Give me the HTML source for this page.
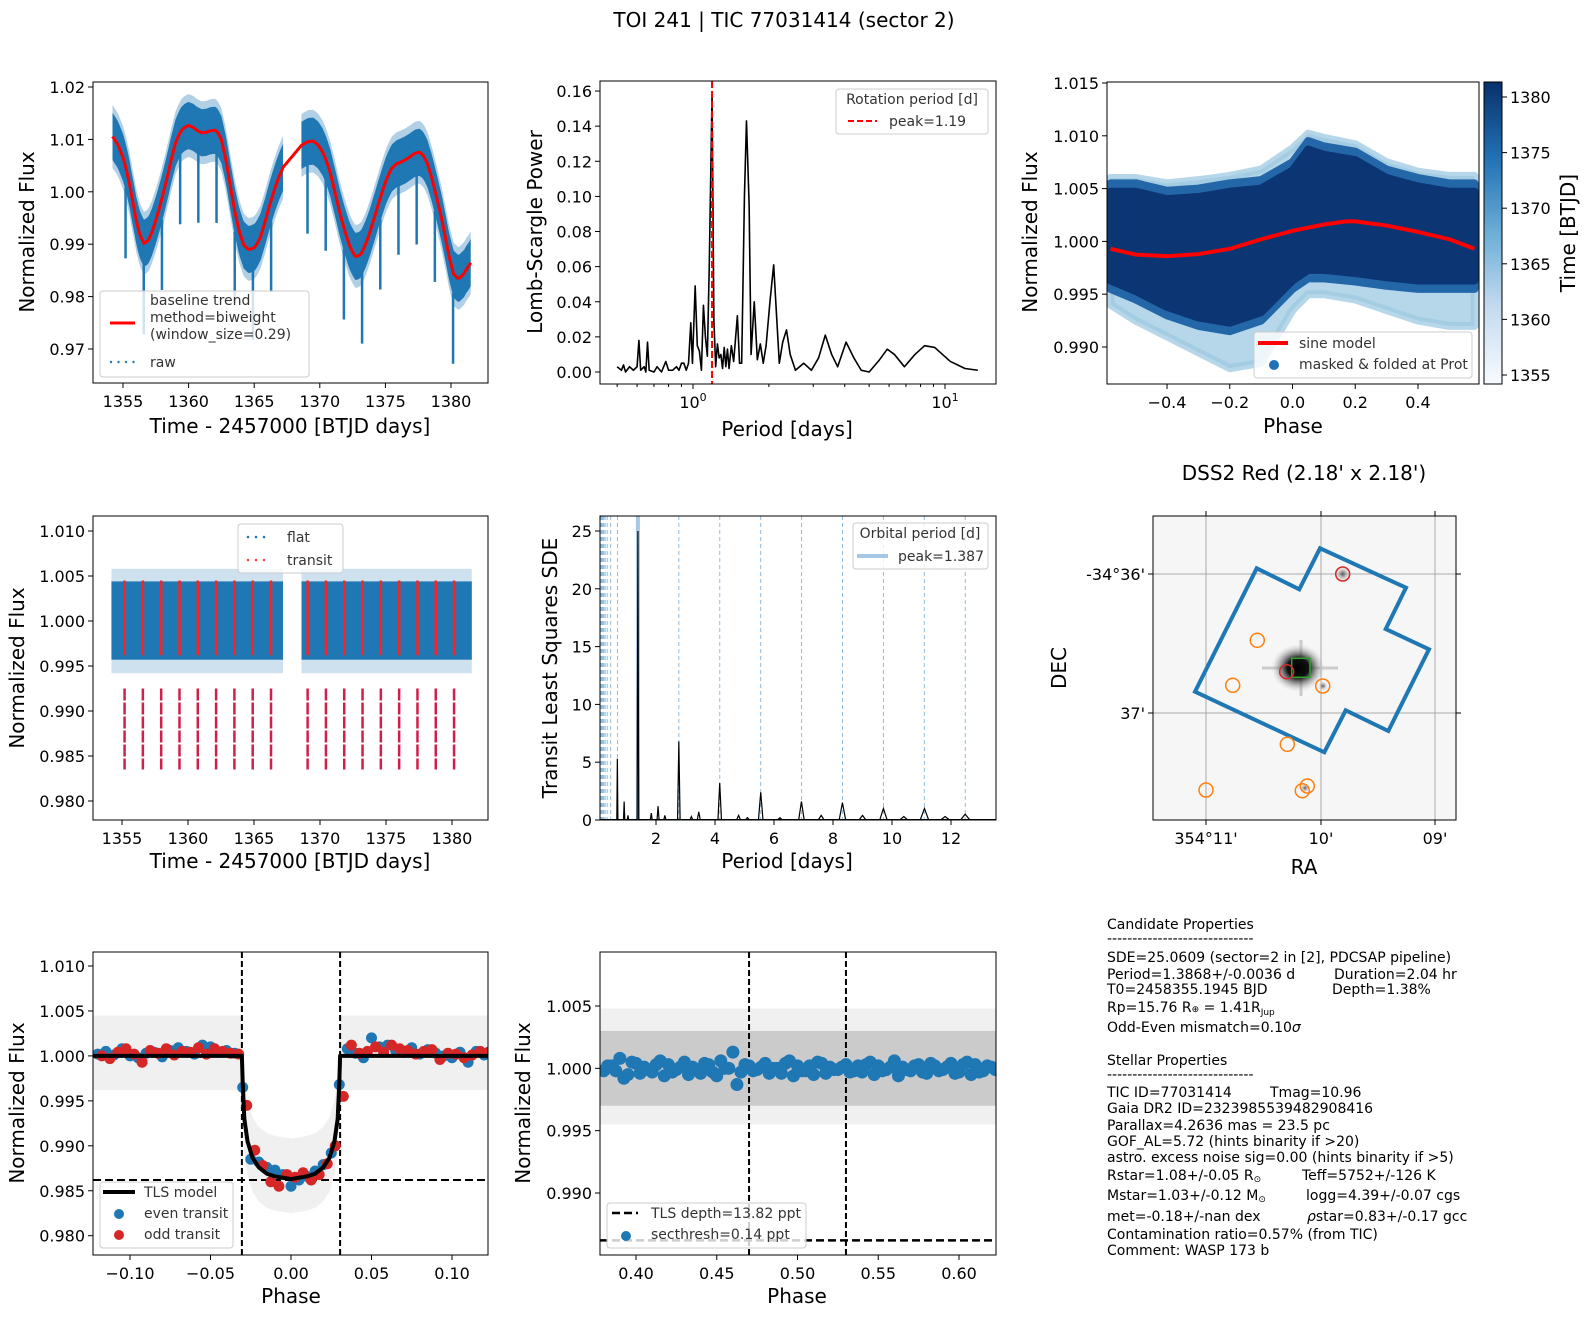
<!DOCTYPE html>
<html><head><meta charset="utf-8">
<style>
html,body{margin:0;padding:0;background:#fff;}
svg{display:block;font-family:"DejaVu Sans","Liberation Sans",sans-serif;}
.tk{font-size:16px;fill:#000;}
.lab{font-size:20px;fill:#000;}
.lg{font-size:14px;fill:#333;}
.info{font-size:14px;fill:#000;}
</style></head>
<body>
<svg id="fig" width="1590" height="1318" viewBox="0 0 1590 1318" xmlns="http://www.w3.org/2000/svg">
<defs>
<linearGradient id="cbar" x1="0" y1="1" x2="0" y2="0">
<stop offset="0" stop-color="#f7fbff"/><stop offset="0.25" stop-color="#c6dbef"/><stop offset="0.5" stop-color="#6baed6"/><stop offset="0.75" stop-color="#2171b5"/><stop offset="1" stop-color="#08306b"/>
</linearGradient>
<radialGradient id="star"><stop offset="0" stop-color="#000"/><stop offset="0.4" stop-color="#111"/><stop offset="0.7" stop-color="#666" stop-opacity="0.5"/><stop offset="1" stop-color="#ccc" stop-opacity="0"/></radialGradient>
<radialGradient id="star2"><stop offset="0" stop-color="#555"/><stop offset="1" stop-color="#ddd" stop-opacity="0"/></radialGradient>
</defs>
<text x="784" y="27" text-anchor="middle" style="font-size:20px">TOI 241 | TIC 77031414 (sector 2)</text>
<g id="info">
<text class="info" x="1107" y="929">Candidate Properties</text>
<text class="info" x="1107" y="943">-----------------------------</text>
<text class="info" x="1107" y="962">SDE=25.0609 (sector=2 in [2], PDCSAP pipeline)</text>
<text class="info" x="1107" y="979">Period=1.3868+/-0.0036 d</text><text class="info" x="1334" y="979">Duration=2.04 hr</text>
<text class="info" x="1107" y="994">T0=2458355.1945 BJD</text><text class="info" x="1332" y="994">Depth=1.38%</text>
<text class="info" x="1107" y="1012">Rp=15.76 R<tspan font-size="9">⊕</tspan> = 1.41R<tspan font-size="9" dy="3">Jup</tspan></text>
<text class="info" x="1107" y="1032">Odd-Even mismatch=0.10<tspan font-style="italic">σ</tspan></text>
<text class="info" x="1107" y="1065">Stellar Properties</text>
<text class="info" x="1107" y="1079">-----------------------------</text>
<text class="info" x="1107" y="1097">TIC ID=77031414</text><text class="info" x="1270" y="1097">Tmag=10.96</text>
<text class="info" x="1107" y="1113">Gaia DR2 ID=2323985539482908416</text>
<text class="info" x="1107" y="1130">Parallax=4.2636 mas = 23.5 pc</text>
<text class="info" x="1107" y="1146">GOF_AL=5.72 (hints binarity if &gt;20)</text>
<text class="info" x="1107" y="1162">astro. excess noise sig=0.00 (hints binarity if &gt;5)</text>
<text class="info" x="1107" y="1180">Rstar=1.08+/-0.05 R<tspan font-size="9" dy="2">⊙</tspan></text><text class="info" x="1302" y="1180">Teff=5752+/-126 K</text>
<text class="info" x="1107" y="1200">Mstar=1.03+/-0.12 M<tspan font-size="9" dy="2">⊙</tspan></text><text class="info" x="1306" y="1200">logg=4.39+/-0.07 cgs</text>
<text class="info" x="1107" y="1221">met=-0.18+/-nan dex</text><text class="info" x="1307" y="1221"><tspan font-style="italic">ρ</tspan>star=0.83+/-0.17 gcc</text>
<text class="info" x="1107" y="1239">Contamination ratio=0.57% (from TIC)</text>
<text class="info" x="1107" y="1255">Comment: WASP 173 b</text>
</g>
</svg>
<script>
// ---------- data ----------
const trendTimes=[1354.2,1355,1355.5,1356,1356.6,1357.2,1357.8,1358.5,1359,1359.5,1360,1360.5,1361,1361.5,1362,1362.5,1363,1363.5,1364.2,1365,1365.5,1366,1366.6,1367.2,1368.6,1369.5,1370.2,1370.8,1371.5,1372.2,1372.7,1373.2,1373.8,1374.5,1375,1375.5,1376.5,1377.6,1378.2,1378.7,1379.3,1380.2,1381,1381.5];
const trendFlux=[1.011,1.007,1.002,0.994,0.989,0.992,0.997,1.004,1.010,1.012,1.013,1.012,1.011,1.0115,1.012,1.011,1.004,0.996,0.989,0.989,0.991,0.996,1.001,1.005,1.009,1.010,1.008,1.004,0.996,0.990,0.987,0.988,0.992,0.998,1.002,1.005,1.006,1.008,1.006,1.001,0.995,0.983,0.984,0.987];
const dataGap=[1367.2,1368.6];
const transitEpoch=1355.1945;
const transitPeriod=1.3868;
const transitCount=19;
const transitDepth=0.0135;

const lsPeriods=[0.5,0.52,0.53,0.54,0.56,0.58,0.6,0.61,0.62,0.64,0.65,0.66,0.67,0.7,0.72,0.75,0.78,0.8,0.83,0.86,0.88,0.9,0.92,0.94,0.96,0.98,0.995,1.02,1.04,1.06,1.08,1.1,1.12,1.14,1.16,1.19,1.21,1.23,1.25,1.27,1.29,1.31,1.33,1.35,1.37,1.39,1.42,1.45,1.5,1.53,1.56,1.6,1.63,1.67,1.7,1.75,1.8,1.85,1.9,1.95,2.02,2.09,2.15,2.2,2.27,2.35,2.43,2.55,2.75,2.95,3.15,3.35,3.55,3.75,4.05,4.35,4.65,5.0,5.5,5.9,6.3,6.9,7.6,8.3,9.1,10.5,12,13.5];
const lsPower=[0.003,0.001,0.004,0.0,0.003,0.001,0.003,0.018,0.001,0.003,0.0,0.017,0.001,0.0,0.003,0.0,0.006,0.001,0.001,0.003,0.001,0.005,0.005,0.001,0.005,0.028,0.005,0.049,0.015,0.012,0.001,0.038,0.02,0.009,0.06,0.158,0.03,0.003,0.016,0.008,0.01,0.002,0.014,0.003,0.013,0.002,0.015,0.006,0.032,0.005,0.005,0.1,0.143,0.095,0.01,0.04,0.007,0.016,0.005,0.015,0.04,0.061,0.03,0.005,0.017,0.024,0.01,0.001,0.005,0.001,0.008,0.021,0.01,0.003,0.017,0.008,0.001,0.0,0.007,0.013,0.01,0.003,0.01,0.015,0.014,0.006,0.002,0.001];
const rotPeak=1.19;

const foldPhase=[-0.58,-0.5,-0.4,-0.3,-0.2,-0.1,0,0.05,0.1,0.2,0.3,0.4,0.5,0.58];
const foldUpper=[1.0055,1.0055,1.0048,1.005,1.0055,1.0058,1.0075,1.0095,1.009,1.0085,1.0068,1.006,1.0055,1.0055];
const foldLower=[0.9955,0.9945,0.993,0.992,0.9915,0.9925,0.9955,0.9965,0.9965,0.9962,0.9958,0.9955,0.9955,0.9955];
const foldLightUpper=[1.006,1.006,1.0055,1.0058,1.0062,1.0068,1.0088,1.0102,1.0098,1.0092,1.0075,1.0066,1.0062,1.0062];
const foldLightLower=[0.994,0.9925,0.991,0.9895,0.988,0.9885,0.9935,0.995,0.995,0.9945,0.9935,0.9925,0.992,0.992];
const sinePhase=[-0.58,-0.5,-0.4,-0.3,-0.2,-0.1,0,0.1,0.17,0.2,0.3,0.4,0.5,0.58];
const sineFlux=[0.9993,0.99875,0.9986,0.9988,0.9993,1.0002,1.001,1.0016,1.0019,1.0019,1.0015,1.0009,1.0002,0.9993];

const tlsPeriods=[0.69,0.92,1.05,1.387,1.84,2.07,2.3,2.774,3.2,3.45,4.16,4.8,5.1,5.55,6.2,6.93,7.6,8.32,9.0,9.71,10.4,11.1,11.8,12.48];
const tlsSDE=[5.3,1.6,0.4,25.0,0.6,1.2,0.4,6.8,0.3,0.7,3.2,0.4,0.2,2.4,0.2,1.6,0.4,1.5,0.4,1.0,0.3,1.0,0.3,0.5];
const orbPeak=1.387;
const harmonicsUp=[2,3,4,5,6,7,8,9];
const harmonicsDown=[2,3,4,5,6,7,8,9,10,11,12,13,14];

const modelPhase=[-0.125,-0.0305,-0.030,-0.029,-0.027,-0.024,-0.02,-0.015,-0.01,0,0.01,0.015,0.02,0.024,0.027,0.029,0.030,0.0305,0.125];
const modelFlux=[1,1,0.997,0.993,0.9905,0.9887,0.9876,0.9869,0.9866,0.9863,0.9866,0.9869,0.9876,0.9887,0.9905,0.993,0.997,1,1];
const binPhaseStart=-0.12, binStep=0.005;
const evenFlux=[1.0002,1.0005,1.0001,1.0008,1.0000,0.9998,1.0003,1.0004,0.9999,1.0006,1.0009,1.0005,1.0002,1.0012,1.0010,1.0004,1.0006,1.0003,
0.9965,0.9885,0.9882,0.9876,0.9873,0.9868,0.9855,0.9862,0.9866,0.9872,0.9879,0.9892,0.9968,
1.0008,1.0003,0.9998,1.0020,1.0010,1.0012,1.0006,1.0004,1.0009,1.0002,1.0007,1.0003,1.0000,0.9998,1.0004,0.9993,1.0005,1.0001];
const oddFlux=[1.0000,0.9997,1.0004,1.0008,1.0002,0.9993,1.0006,1.0003,1.0008,1.0001,1.0005,1.0004,1.0009,1.0002,1.0008,1.0005,1.0003,1.0002,
0.9945,0.9895,0.9878,0.9860,0.9855,0.9868,0.9865,0.9870,0.9862,0.9868,0.9880,0.9900,0.9955,
1.0012,1.0003,1.0005,1.0010,1.0004,1.0012,1.0008,1.0006,1.0002,1.0005,1.0007,0.9996,1.0003,1.0002,0.9998,1.0001,1.0005,1.0004];
const tlsDepthLevel=0.9862;
const transitEdges=[-0.0305,0.0305];

const secPhaseStart=0.38, secStep=0.005;
const secFlux=[0.9998,1.0002,1.0008,0.9995,1.0004,1.0001,0.9997,1.0006,1.0003,0.9999,1.0005,1.0001,0.9996,1.0003,0.9994,1.0000,1.0013,0.9997,1.0002,0.9999,1.0004,1.0000,0.9996,1.0006,1.0002,0.9998,0.9995,1.0004,1.0001,0.9999,1.0003,0.9998,0.9997,1.0005,1.0002,0.9999,1.0006,1.0001,0.9998,1.0003,0.9996,1.0002,0.9999,1.0004,0.9997,1.0005,1.0003,0.9998,1.0001];
const secEdges=[0.47,0.53];

// ---------- helpers ----------
const svg=document.getElementById('fig');
const NS='http://www.w3.org/2000/svg';
function mk(tag,attrs,parent){const e=document.createElementNS(NS,tag);for(const k in attrs)e.setAttribute(k,attrs[k]);(parent||svg).appendChild(e);return e;}
function txt(x,y,s,cls,anchor,parent){const e=mk('text',{x:x,y:y,class:cls,'text-anchor':anchor||'start'},parent);e.textContent=s;return e;}
function frame(L,T,R,B){const e=mk('rect',{x:L,y:T,width:R-L,height:B-T,fill:'none',stroke:'#000','stroke-width':1});


return e;}
function xticks(vals,labels,xf,B){for(let i=0;i<vals.length;i++){const x=xf(vals[i]);
const l=mk('line',{x1:x,x2:x,y1:B,y2:B+5,stroke:'#000'});


const t=txt(x,B+24,labels[i],'tk','middle');

}}
function yticks(vals,labels,yf,L){for(let i=0;i<vals.length;i++){const y=yf(vals[i]);
const l=mk('line',{x1:L-5,x2:L,y1:y,y2:y,stroke:'#000'});


const t=txt(L-8,y+6,labels[i],'tk','end');

}}
function xlabel(x,y,s){const t=txt(x,y,s,'lab','middle');

}
function ylabel(x,y,s){const t=txt(x,y,s,'lab','middle');t.setAttribute('transform','rotate(-90 '+x+' '+y+')');

}
function clip(id,L,T,R,B){const d=svg.querySelector('defs');const c=mk('clipPath',{id:id},d);mk('rect',{x:L,y:T,width:R-L,height:B-T},c);const g=mk('g',{'clip-path':'url(#'+id+')'});return g;}
function interp(xs,ys,x){if(x<=xs[0])return ys[0];for(let i=1;i<xs.length;i++){if(x<=xs[i]){const f=(x-xs[i-1])/(xs[i]-xs[i-1]);return ys[i-1]+f*(ys[i]-ys[i-1]);}}return ys[ys.length-1];}
function smooth(xs,ys,x){const h=0.35;return (interp(xs,ys,x-h)+2*interp(xs,ys,x)+interp(xs,ys,x+h))/4;}
function fmt(v,d){return (v<0?'\u2212':'')+Math.abs(v).toFixed(d);}
function legendBox(x,y,w,h){const r=mk('rect',{x:x,y:y,width:w,height:h,rx:3,fill:'#fff','fill-opacity':0.8,stroke:'#ccc'});

return r;}

// ---------- Panel 1: raw light curve ----------
(function(){
const L=93,T=82,R=488,B=383;
const xf=t=>123+(t-1355)*13.12, yf=v=>87+(1.02-v)*5240;
const g=clip('c1',L,T,R,B);
const segs=[[trendTimes[0],dataGap[0]],[dataGap[1],trendTimes[trendTimes.length-1]]];
segs.forEach(s=>{[[0.006,0.35],[0.0045,1]].forEach(w=>{let up=[],lo=[];for(let t=s[0];t<=s[1]+1e-6;t+=0.1){const v=smooth(trendTimes,trendFlux,t);up.push(xf(t)+','+yf(v+w[0]));lo.unshift(xf(t)+','+yf(v-w[0]));}
const p=mk('polygon',{points:up.concat(lo).join(' '),fill:'#1f77b4','fill-opacity':w[1]},g);

});});
for(let k=0;k<transitCount;k++){const t=transitEpoch+k*transitPeriod;if(t>dataGap[0]&&t<dataGap[1])continue;const v=smooth(trendTimes,trendFlux,t);
const l=mk('line',{x1:xf(t),x2:xf(t),y1:yf(v-0.004),y2:yf(v-transitDepth-0.004),stroke:'#1f77b4','stroke-width':2.5},g);

}
let tp=[];for(let t=trendTimes[0];t<=trendTimes[trendTimes.length-1]+1e-6;t+=0.1){if(t>dataGap[0]+0.05&&t<dataGap[1]-0.05)continue;tp.push(xf(t)+','+yf(smooth(trendTimes,trendFlux,t)));}
const tl=mk('polyline',{points:tp.join(' '),fill:'none',stroke:'#ff0000','stroke-width':3},g);


frame(L,T,R,B);
xticks([1355,1360,1365,1370,1375,1380],['1355','1360','1365','1370','1375','1380'],xf,B);
yticks([0.97,0.98,0.99,1.00,1.01,1.02],['0.97','0.98','0.99','1.00','1.01','1.02'],yf,L);
xlabel(290,433,'Time - 2457000 [BTJD days]');ylabel(34,232,'Normalized Flux');
legendBox(100,291,209,86);
mk('line',{x1:110,x2:135,y1:323,y2:323,stroke:'#f00','stroke-width':3});
['baseline trend','method=biweight','(window_size=0.29)'].forEach((s,i)=>txt(150,305+i*17,s,'lg'));
for(let i=0;i<4;i++)mk('circle',{cx:111+i*7.5,cy:362,r:1.2,fill:'#1f77b4'});
txt(150,367,'raw','lg');
})();

// ---------- Panel 2: Lomb-Scargle ----------
(function(){
const L=600,T=81,R=996,B=384;
const xf=p=>693+Math.log10(p)*252, yf=v=>372-v*1756;
const g=clip('c2',L,T,R,B);
const pl=mk('polyline',{points:lsPeriods.map((p,i)=>xf(p)+','+yf(lsPower[i])).join(' '),fill:'none',stroke:'#000','stroke-width':1.6,'stroke-linejoin':'round'},g);


const rl=mk('line',{x1:xf(rotPeak),x2:xf(rotPeak),y1:T,y2:B,stroke:'#f00','stroke-width':2,'stroke-dasharray':'7,3'},g);


frame(L,T,R,B);
[0.5,0.6,0.7,0.8,0.9,2,3,4,5,6,7,8,9].forEach(p=>{const m=mk('line',{x1:xf(p),x2:xf(p),y1:B,y2:B+3,stroke:'#000'});

});
[1,10].forEach((p,i)=>{const x=xf(p);mk('line',{x1:x,x2:x,y1:B,y2:B+5,stroke:'#000'});
const t=mk('text',{x:x,y:B+24,class:'tk','text-anchor':'middle'});


t.innerHTML='10<tspan dy="-7" font-size="11">'+i+'</tspan>';});
const yv=[0,0.02,0.04,0.06,0.08,0.10,0.12,0.14,0.16];
yticks(yv,yv.map(v=>v.toFixed(2)),yf,L);
xlabel(787,436,'Period [days]');ylabel(542,232,'Lomb-Scargle Power');
legendBox(836,89,152,45);
txt(912,104,'Rotation period [d]','lg','middle').setAttribute('fill','#000');
mk('line',{x1:848,x2:877,y1:121,y2:121,stroke:'#f00','stroke-width':2,'stroke-dasharray':'6,3'});
txt(889,126,'peak=1.19','lg');
})();

// ---------- Panel 3: folded at Prot ----------
(function(){
const L=1107,T=82,R=1479,B=384;
const xf=p=>1292.5+p*313.7, yf=v=>83+(1.015-v)*10560;
const g=clip('c3',L,T,R,B);
function band(up,lo,fill,op,name){const a=foldPhase.map((p,i)=>xf(p)+','+yf(up[i])),b=foldPhase.map((p,i)=>xf(p)+','+yf(lo[i])).reverse();
const e=mk('polygon',{points:a.concat(b).join(' '),fill:fill,'fill-opacity':op,stroke:fill,'stroke-width':8,'stroke-linejoin':'round','stroke-opacity':op},g);

}
band(foldLightUpper,foldLightLower,'#9ecae1',0.75,'folded-points-early');
band(foldUpper,foldLower,'#2467a8',1,'folded-points-mid');
const inner=foldUpper.map((v,i)=>v-0.0008), innerLo=foldLower.map(v=>v+0.0008);
band(inner,innerLo,'#0b3673',1,'folded-points-late');
const sl=mk('polyline',{points:sinePhase.map((p,i)=>xf(p)+','+yf(sineFlux[i])).join(' '),fill:'none',stroke:'#f00','stroke-width':4,'stroke-linejoin':'round'},g);


frame(L,T,R,B);
xticks([-0.4,-0.2,0,0.2,0.4],[-0.4,-0.2,0,0.2,0.4].map(v=>fmt(v,1)),xf,B);
const yv=[0.990,0.995,1.000,1.005,1.010,1.015];
yticks(yv,yv.map(v=>v.toFixed(3)),yf,L);
xlabel(1293,433,'Phase');ylabel(1037,232,'Normalized Flux');
legendBox(1254,332,218,46);
mk('line',{x1:1258,x2:1288,y1:343,y2:343,stroke:'#f00','stroke-width':4});
txt(1299,348,'sine model','lg').setAttribute('fill','#000');
mk('circle',{cx:1274,cy:365,r:5,fill:'#2171b5'});
txt(1299,369,'masked & folded at Prot','lg').setAttribute('fill','#000');
// colorbar
const cb=mk('rect',{x:1484,y:82,width:18,height:302,fill:'url(#cbar)',stroke:'#000'});


const cf=v=>375-(v-1355)*11.12;
[1355,1360,1365,1370,1375,1380].forEach(v=>{mk('line',{x1:1502,x2:1507,y1:cf(v),y2:cf(v),stroke:'#000'});
const t=txt(1510,cf(v)+6,String(v),'tk');

});
const ct=txt(1575,233,'Time [BTJD]','lab','middle');ct.setAttribute('transform','rotate(-90 1575 233)');


})();

// ---------- Panel 4: flattened ----------
(function(){
const L=93,T=516,R=488,B=820;
const xf=t=>122+(t-1355)*13.2, yf=v=>531+(1.010-v)*9000;
const g=clip('c4',L,T,R,B);
[[trendTimes[0],dataGap[0]],[dataGap[1],trendTimes[trendTimes.length-1]]].forEach(s=>{
const o=mk('rect',{x:xf(s[0]),y:yf(1.0058),width:xf(s[1])-xf(s[0]),height:yf(0.9942)-yf(1.0058),fill:'#1f77b4','fill-opacity':0.22},g);


const r=mk('rect',{x:xf(s[0]),y:yf(1.0044),width:xf(s[1])-xf(s[0]),height:yf(0.9957)-yf(1.0044),fill:'#1f77b4'},g);

});
for(let k=0;k<transitCount;k++){const t=transitEpoch+k*transitPeriod;if(t>dataGap[0]&&t<dataGap[1])continue;
const a=mk('line',{x1:xf(t),x2:xf(t),y1:yf(1.0045),y2:yf(0.9962),stroke:'#ff2020','stroke-width':2.5},g);


const b=mk('line',{x1:xf(t),x2:xf(t),y1:yf(0.9925),y2:yf(1-transitDepth-0.003),stroke:'#d0204a','stroke-width':2.5,'stroke-dasharray':'12,2'},g);

}
frame(L,T,R,B);
xticks([1355,1360,1365,1370,1375,1380],['1355','1360','1365','1370','1375','1380'],xf,B);
const yv=[0.980,0.985,0.990,0.995,1.000,1.005,1.010];
yticks(yv,yv.map(v=>v.toFixed(3)),yf,L);
xlabel(290,868,'Time - 2457000 [BTJD days]');ylabel(24,668,'Normalized Flux');
legendBox(238,524,105,49);
for(let i=0;i<3;i++){mk('circle',{cx:248+i*8,cy:537,r:1.3,fill:'#1f77b4'});mk('circle',{cx:248+i*8,cy:560,r:1.3,fill:'#f44'});}
txt(287,542,'flat','lg');txt(287,565,'transit','lg');
})();

// ---------- Panel 5: TLS ----------
(function(){
const L=600,T=516,R=996,B=820;
const xf=p=>656+(p-2)*29.5, yf=v=>820-v*11.56;
const g=clip('c5',L,T,R,B);
const lines=harmonicsUp.map(k=>orbPeak*k).concat(harmonicsDown.map(k=>orbPeak/k));
lines.forEach(p=>{const l=mk('line',{x1:xf(p),x2:xf(p),y1:T,y2:B,stroke:'#8fbde0','stroke-width':1,'stroke-dasharray':'4,3'},g);

});
const pk=mk('line',{x1:xf(orbPeak),x2:xf(orbPeak),y1:T,y2:B,stroke:'#a6c8e4','stroke-width':4},g);


tlsPeriods.forEach((p,i)=>{const w=0.01+p*0.012;
const s=mk('polyline',{points:xf(p-w)+','+yf(0)+' '+xf(p)+','+yf(tlsSDE[i])+' '+xf(p+w)+','+yf(0),fill:'none',stroke:'#000','stroke-width':1.2},g);

});
const base=mk('line',{x1:L,x2:R,y1:yf(0)-0.5,y2:yf(0)-0.5,stroke:'#000','stroke-width':1},g);


frame(L,T,R,B);
xticks([2,4,6,8,10,12],['2','4','6','8','10','12'],xf,B);
yticks([0,5,10,15,20,25],['0','5','10','15','20','25'],yf,L);
xlabel(787,868,'Period [days]');ylabel(557,668,'Transit Least Squares SDE');
legendBox(853,523,135,46);
txt(920,538,'Orbital period [d]','lg','middle').setAttribute('fill','#000');
mk('line',{x1:857,x2:888,y1:556,y2:556,stroke:'#a6c8e4','stroke-width':4});
txt(898,561,'peak=1.387','lg').setAttribute('fill','#000');
})();

// ---------- Panel 6: DSS2 image ----------
(function(){
const L=1153,T=516,R=1456,B=820;
const bg=mk('rect',{x:L,y:T,width:R-L,height:B-T,fill:'#f6f6f6'});


const gx=[1206,1321,1435], gy=[574,713];
gx.forEach(x=>{const l=mk('line',{x1:x,x2:x,y1:T,y2:B,stroke:'#aaa'});


mk('line',{x1:x,x2:x,y1:T-5,y2:T,stroke:'#000'});mk('line',{x1:x,x2:x,y1:B,y2:B+5,stroke:'#000'});});
gy.forEach(y=>{const l=mk('line',{x1:L,x2:R,y1:y,y2:y,stroke:'#aaa'});


mk('line',{x1:L-5,x2:L,y1:y,y2:y,stroke:'#000'});mk('line',{x1:R,x2:R+5,y1:y,y2:y,stroke:'#000'});});
mk('line',{x1:1301,x2:1301,y1:640,y2:696,stroke:'#ccc','stroke-width':3});
mk('line',{x1:1262,x2:1338,y1:668,y2:668,stroke:'#ccc','stroke-width':3});
const st=mk('ellipse',{cx:1298,cy:668,rx:27,ry:24,fill:'url(#star)'});


mk('circle',{cx:1342.7,cy:574,r:8,fill:'url(#star2)'});
mk('circle',{cx:1323,cy:686,r:5,fill:'url(#star2)'});
mk('circle',{cx:1305,cy:788,r:5,fill:'url(#star2)'});
const ap=mk('polygon',{points:'1256.7,568.3 1299.3,589.3 1320,548.3 1406,587.7 1385.7,629 1429,649.3 1388.3,731 1345.7,710.3 1324.3,752.3 1195,691.7',fill:'none',stroke:'#1f77b4','stroke-width':4});


const gs=mk('rect',{x:1291.7,y:658.3,width:18.3,height:19,fill:'none',stroke:'#2ca02c','stroke-width':1.5});


[[1286.7,671.7],[1342.7,574]].forEach(c=>{const e=mk('circle',{cx:c[0],cy:c[1],r:7,fill:'none',stroke:'#d62728','stroke-width':1.5});

});
[[1257.3,640.3],[1232.7,685.3],[1322.7,686],[1287.3,744.3],[1206,790],[1307.3,786],[1302.3,790.7]].forEach(c=>{const e=mk('circle',{cx:c[0],cy:c[1],r:7,fill:'none',stroke:'#ff7f0e','stroke-width':1.5});

});
frame(L,T,R,B);
["354°11'","10'","09'"].forEach((s,i)=>{const t=txt(gx[i],B+24,s,'tk','middle');

});
["-34°36'","37'"].forEach((s,i)=>{const t=txt(L-8,gy[i]+6,s,'tk','end');

});
xlabel(1304,874,'RA');ylabel(1066,668,'DEC');
const tt=txt(1304,480,"DSS2 Red (2.18' x 2.18')",'lab','middle');


})();

// ---------- Panel 7: phase folded transit ----------
(function(){
const L=93,T=952,R=488,B=1255;
const xf=p=>291+p*1610, yf=v=>966+(1.010-v)*8990;
const g=clip('c7',L,T,R,B);
let up=[],lo=[];for(let p=-0.13;p<=0.13;p+=0.001){const v=interp(modelPhase,modelFlux,p);up.push(xf(p)+','+yf(v+0.0045));lo.unshift(xf(p)+','+yf(v-0.0038));}
const cl=mk('polygon',{points:up.concat(lo).join(' '),fill:'#ccc','fill-opacity':0.3},g);


transitEdges.forEach(p=>{const l=mk('line',{x1:xf(p),x2:xf(p),y1:T,y2:B,stroke:'#000','stroke-width':2,'stroke-dasharray':'6,3'},g);

});
const dl=mk('line',{x1:L,x2:R,y1:yf(tlsDepthLevel),y2:yf(tlsDepthLevel),stroke:'#000','stroke-width':2,'stroke-dasharray':'8,4'},g);


evenFlux.forEach((v,i)=>{const c=mk('circle',{cx:xf(binPhaseStart+i*binStep),cy:yf(v),r:5.5,fill:'#1f77b4'},g);

});
oddFlux.forEach((v,i)=>{const c=mk('circle',{cx:xf(binPhaseStart+i*binStep+0.0025),cy:yf(v),r:5.5,fill:'#d62728'},g);

});
const ml=mk('polyline',{points:modelPhase.map((p,i)=>xf(p)+','+yf(modelFlux[i])).join(' '),fill:'none',stroke:'#000','stroke-width':4,'stroke-linejoin':'round'},g);


frame(L,T,R,B);
const xv=[-0.10,-0.05,0,0.05,0.10];xticks(xv,xv.map(v=>fmt(v,2)),xf,B);
const yv=[0.980,0.985,0.990,0.995,1.000,1.005,1.010];yticks(yv,yv.map(v=>v.toFixed(3)),yf,L);
xlabel(291,1303,'Phase');ylabel(24,1103,'Normalized Flux');
legendBox(100,1182,133,66);
mk('line',{x1:103,x2:135,y1:1192,y2:1192,stroke:'#000','stroke-width':4});
txt(144,1197,'TLS model','lg').setAttribute('fill','#000');
mk('circle',{cx:119,cy:1214,r:5,fill:'#1f77b4'});txt(144,1218,'even transit','lg').setAttribute('fill','#000');
mk('circle',{cx:119,cy:1235,r:5,fill:'#d62728'});txt(144,1239,'odd transit','lg').setAttribute('fill','#000');
})();

// ---------- Panel 8: secondary eclipse ----------
(function(){
const L=600,T=952,R=996,B=1255;
const xf=p=>636+(p-0.4)*1615, yf=v=>1006+(1.005-v)*12467;
const g=clip('c8',L,T,R,B);
const o=mk('rect',{x:L,y:yf(1.0048),width:R-L,height:yf(0.9955)-yf(1.0048),fill:'#999','fill-opacity':0.15},g);


const r=mk('rect',{x:L,y:yf(1.003),width:R-L,height:yf(0.997)-yf(1.003),fill:'#777','fill-opacity':0.3},g);


secEdges.forEach(p=>{const l=mk('line',{x1:xf(p),x2:xf(p),y1:T,y2:B,stroke:'#000','stroke-width':2,'stroke-dasharray':'6,3'},g);

});
const dl=mk('line',{x1:L,x2:R,y1:yf(tlsDepthLevel),y2:yf(tlsDepthLevel),stroke:'#000','stroke-width':2.5,'stroke-dasharray':'8,4'},g);


secFlux.forEach((v,i)=>{const c=mk('circle',{cx:xf(secPhaseStart+i*secStep),cy:yf(v),r:6.5,fill:'#1f77b4'},g);


const c2=mk('circle',{cx:xf(secPhaseStart+i*secStep+0.0025),cy:yf(2-v),r:6.5,fill:'#1f77b4'},g);

});
frame(L,T,R,B);
const xv=[0.40,0.45,0.50,0.55,0.60];xticks(xv,xv.map(v=>v.toFixed(2)),xf,B);
const yv=[0.990,0.995,1.000,1.005];yticks(yv,yv.map(v=>v.toFixed(3)),yf,L);
xlabel(797,1303,'Phase');ylabel(530,1103,'Normalized Flux');
legendBox(607,1203,199,45);
mk('line',{x1:612,x2:638,y1:1213,y2:1213,stroke:'#000','stroke-width':2.5,'stroke-dasharray':'8,4'});
txt(651,1218,'TLS depth=13.82 ppt','lg').setAttribute('fill','#000');
mk('circle',{cx:626,cy:1236,r:5,fill:'#1f77b4'});
txt(651,1239,'secthresh=0.14 ppt','lg').setAttribute('fill','#000');
})();
</script>
</body></html>
